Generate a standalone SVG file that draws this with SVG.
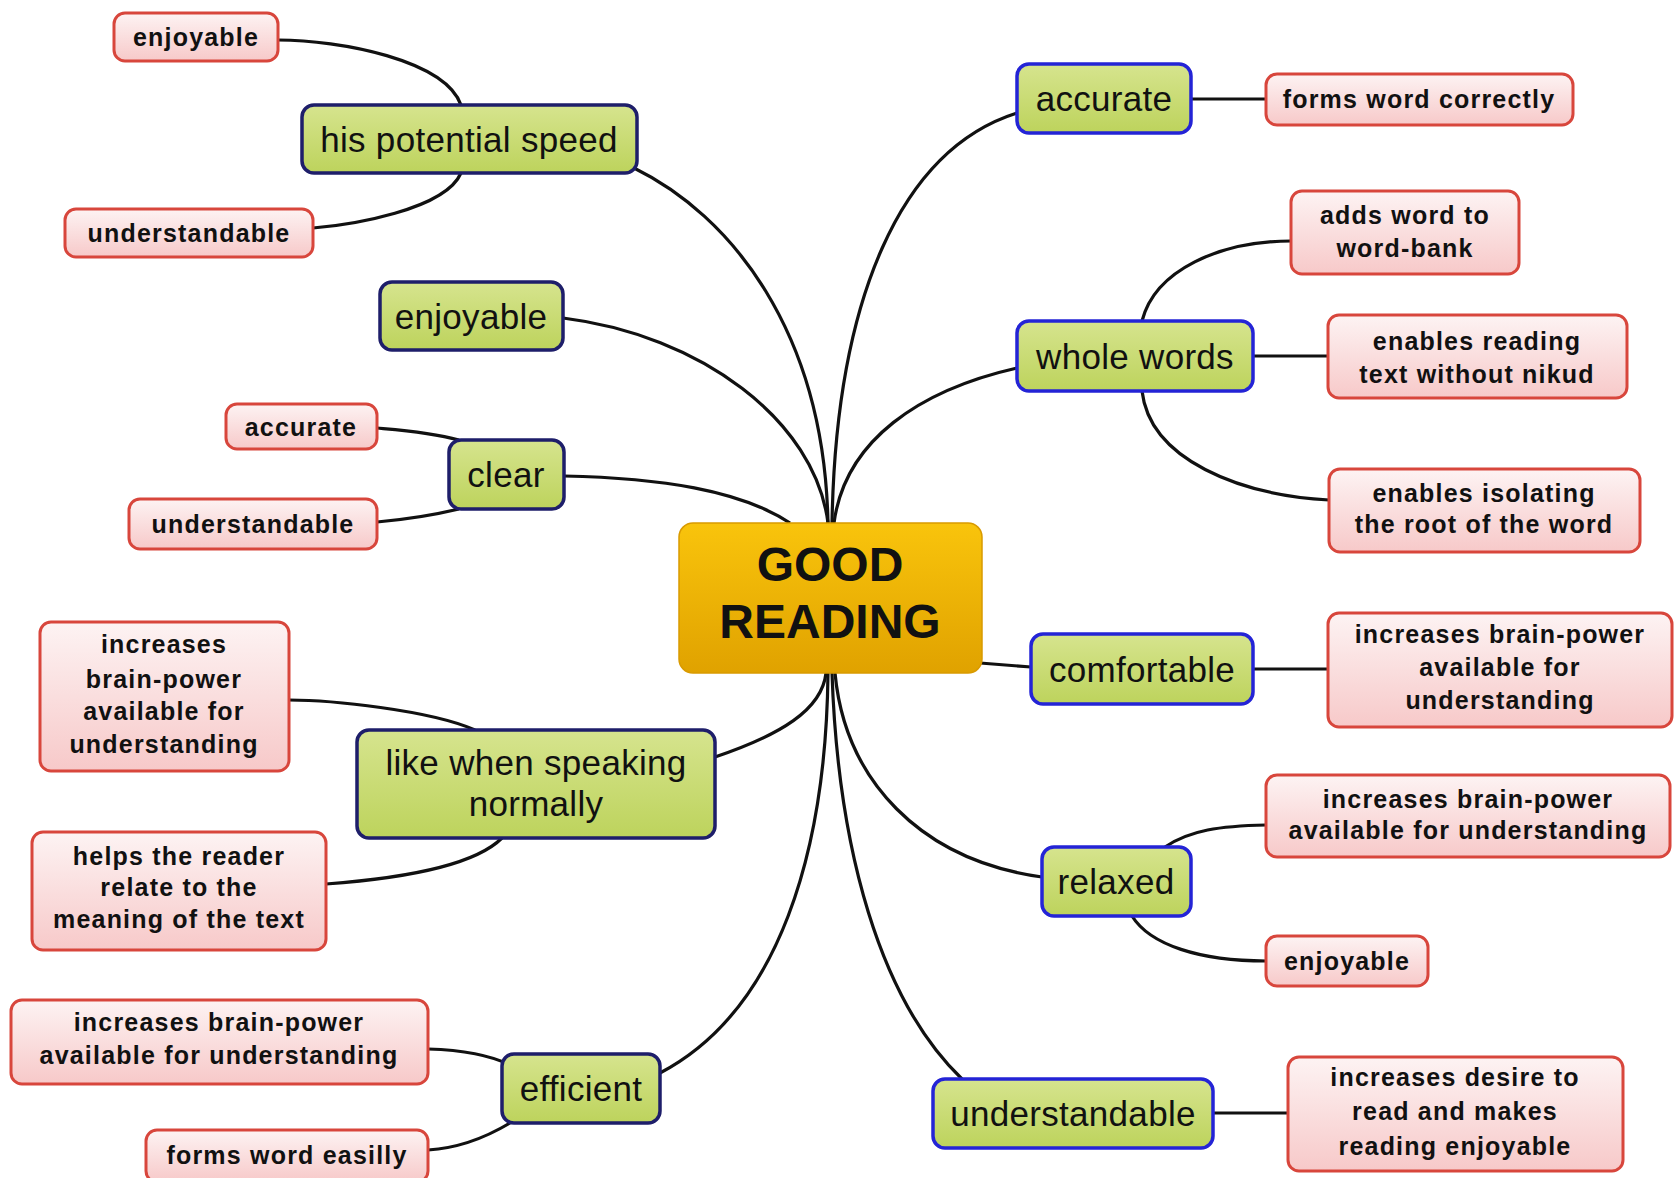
<svg xmlns="http://www.w3.org/2000/svg" width="1674" height="1178" viewBox="0 0 1674 1178">
<style>
.g rect{stroke-width:3.5}
.gl rect{fill:url(#gg);stroke:#1e1e6a}
.gr rect{fill:url(#gg);stroke:#2424d6}
.r rect{fill:url(#rg);stroke:#d8463c;stroke-width:3}
.gt{font-family:"Liberation Sans",Arial,sans-serif;font-size:35px;fill:#111;text-anchor:middle;dominant-baseline:central;letter-spacing:0.3px}
.rt{font-family:"Liberation Sans",Arial,sans-serif;font-size:25px;font-weight:bold;fill:#111;text-anchor:middle;dominant-baseline:central;letter-spacing:1.2px}
.ct{font-family:"Liberation Sans",Arial,sans-serif;font-size:48px;font-weight:bold;fill:#111;text-anchor:middle;dominant-baseline:central}
#connectors path{fill:none;stroke:#111;stroke-width:3.2}
</style>
<defs>
<linearGradient id="gg" x1="0" y1="0" x2="0" y2="1"><stop offset="0" stop-color="#d6e48e"/><stop offset="1" stop-color="#bdd35c"/></linearGradient>
<linearGradient id="rg" x1="0" y1="0" x2="0" y2="1"><stop offset="0" stop-color="#fdf3f3"/><stop offset="1" stop-color="#f7c9c9"/></linearGradient>
<linearGradient id="cg" x1="0" y1="0" x2="0" y2="1"><stop offset="0" stop-color="#f9c40c"/><stop offset="1" stop-color="#e0a200"/></linearGradient>
</defs>
<rect width="1674" height="1178" fill="#fff"/>
<g id="connectors">
<path d="M634,168 C730,215 824,330 828,523"/>
<path d="M563,318 C700,335 815,420 828,523"/>
<path d="M564,476 C660,478 740,490 790,523"/>
<path d="M1017,113 C900,150 836,300 832,523"/>
<path d="M1017,368 C920,390 845,440 834,523"/>
<path d="M715,757 C780,735 822,710 826,673"/>
<path d="M660,1073 C780,1010 826,850 828,673"/>
<path d="M962,1079 C880,1000 838,850 832,673"/>
<path d="M1042,877 C920,860 845,780 835,673"/>
<path d="M980,663 L1031,667"/>
<path d="M461,105 C445,60 340,40 278,40"/>
<path d="M461,173 C445,210 350,225 313,228"/>
<path d="M459,440 C430,432 400,430 377,428"/>
<path d="M459,509 C430,516 400,520 377,522"/>
<path d="M475,730 C430,710 330,700 289,700"/>
<path d="M502,838 C470,870 380,880 326,884"/>
<path d="M510,1065 C490,1055 460,1050 428,1049"/>
<path d="M510,1123 C490,1135 460,1148 428,1150"/>
<path d="M1191,99 L1266,99"/>
<path d="M1142,321 C1155,270 1220,241 1291,241"/>
<path d="M1253,356 L1328,356"/>
<path d="M1142,391 C1150,460 1240,495 1329,500"/>
<path d="M1253,669 L1328,669"/>
<path d="M1165,847 C1190,830 1220,826 1266,825"/>
<path d="M1132,916 C1150,945 1200,961 1266,961"/>
<path d="M1213,1113 L1288,1113"/>
</g>
<g id="center"><rect x="679" y="523" width="303" height="150" rx="14" fill="url(#cg)" stroke="#d99a00" stroke-width="1.5"/><text class="ct" x="830" y="564">GOOD</text><text class="ct" x="830" y="621">READING</text></g>
<g id="n-speed" class="g gl"><rect x="302" y="105" width="335" height="68" rx="12"/><text class="gt" x="469" y="139">his potential speed</text></g>
<g id="n-enjoyable" class="g gl"><rect x="380" y="282" width="183" height="68" rx="12"/><text class="gt" x="471" y="316">enjoyable</text></g>
<g id="n-clear" class="g gl"><rect x="449" y="440" width="115" height="69" rx="12"/><text class="gt" x="506" y="474">clear</text></g>
<g id="n-speaking" class="g gl"><rect x="357" y="730" width="358" height="108" rx="12"/><text class="gt" x="536" y="762">like when speaking</text><text class="gt" x="536" y="803">normally</text></g>
<g id="n-efficient" class="g gl"><rect x="502" y="1054" width="158" height="69" rx="12"/><text class="gt" x="581" y="1088">efficient</text></g>
<g id="n-accurate" class="g gr"><rect x="1017" y="64" width="174" height="69" rx="12"/><text class="gt" x="1104" y="98">accurate</text></g>
<g id="n-whole" class="g gr"><rect x="1017" y="321" width="236" height="70" rx="12"/><text class="gt" x="1135" y="356">whole words</text></g>
<g id="n-comfortable" class="g gr"><rect x="1031" y="634" width="222" height="70" rx="12"/><text class="gt" x="1142" y="669">comfortable</text></g>
<g id="n-relaxed" class="g gr"><rect x="1042" y="847" width="149" height="69" rx="12"/><text class="gt" x="1116" y="881">relaxed</text></g>
<g id="n-understandable" class="g gr"><rect x="933" y="1079" width="280" height="69" rx="12"/><text class="gt" x="1073" y="1113">understandable</text></g>
<g id="r-enjoyable1" class="r"><rect x="114" y="13" width="164" height="48" rx="11"/><text class="rt" x="196" y="37">enjoyable</text></g>
<g id="r-understandable1" class="r"><rect x="65" y="209" width="248" height="48" rx="11"/><text class="rt" x="189" y="233">understandable</text></g>
<g id="r-accurate" class="r"><rect x="226" y="404" width="151" height="45" rx="11"/><text class="rt" x="301" y="427">accurate</text></g>
<g id="r-understandable2" class="r"><rect x="129" y="499" width="248" height="50" rx="11"/><text class="rt" x="253" y="524">understandable</text></g>
<g id="r-brain1" class="r"><rect x="40" y="622" width="249" height="149" rx="11"/><text class="rt" x="164" y="644">increases</text><text class="rt" x="164" y="679">brain-power</text><text class="rt" x="164" y="711">available for</text><text class="rt" x="164" y="744">understanding</text></g>
<g id="r-helps" class="r"><rect x="32" y="832" width="294" height="118" rx="11"/><text class="rt" x="179" y="856">helps the reader</text><text class="rt" x="179" y="887">relate to the</text><text class="rt" x="179" y="919">meaning of the text</text></g>
<g id="r-brain2" class="r"><rect x="11" y="1000" width="417" height="84" rx="11"/><text class="rt" x="219" y="1022">increases brain-power</text><text class="rt" x="219" y="1055">available for understanding</text></g>
<g id="r-easily" class="r"><rect x="146" y="1130" width="282" height="52" rx="11"/><text class="rt" x="287" y="1155">forms word easilly</text></g>
<g id="r-correctly" class="r"><rect x="1266" y="74" width="307" height="51" rx="11"/><text class="rt" x="1419" y="99">forms word correctly</text></g>
<g id="r-wordbank" class="r"><rect x="1291" y="191" width="228" height="83" rx="11"/><text class="rt" x="1405" y="215">adds word to</text><text class="rt" x="1405" y="248">word-bank</text></g>
<g id="r-nikud" class="r"><rect x="1328" y="315" width="299" height="83" rx="11"/><text class="rt" x="1477" y="341">enables reading</text><text class="rt" x="1477" y="374">text without nikud</text></g>
<g id="r-root" class="r"><rect x="1329" y="469" width="311" height="83" rx="11"/><text class="rt" x="1484" y="493">enables isolating</text><text class="rt" x="1484" y="524">the root of the word</text></g>
<g id="r-brain3" class="r"><rect x="1328" y="613" width="344" height="114" rx="11"/><text class="rt" x="1500" y="634">increases brain-power</text><text class="rt" x="1500" y="667">available for</text><text class="rt" x="1500" y="700">understanding</text></g>
<g id="r-brain4" class="r"><rect x="1266" y="775" width="404" height="82" rx="11"/><text class="rt" x="1468" y="799">increases brain-power</text><text class="rt" x="1468" y="830">available for understanding</text></g>
<g id="r-enjoyable2" class="r"><rect x="1266" y="936" width="162" height="50" rx="11"/><text class="rt" x="1347" y="961">enjoyable</text></g>
<g id="r-desire" class="r"><rect x="1288" y="1057" width="335" height="114" rx="11"/><text class="rt" x="1455" y="1077">increases desire to</text><text class="rt" x="1455" y="1111">read and makes</text><text class="rt" x="1455" y="1146">reading enjoyable</text></g>
</svg>
